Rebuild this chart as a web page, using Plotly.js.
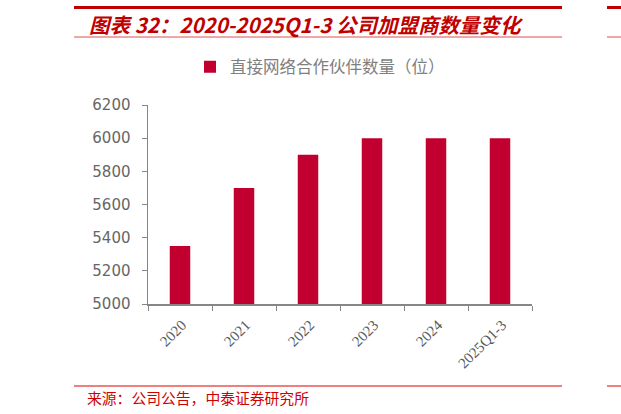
<!DOCTYPE html>
<html>
<head>
<meta charset="utf-8">
<script src="https://cdn.plot.ly/plotly-3.0.1.min.js"></script>
<style>
  body { margin: 0; background: #fff; }
  #myDiv { width: 621px; height: 414px; }
</style>
</head>
<body>
<div id="myDiv"></div>
<script>
var years = ["2020", "2021", "2022", "2023", "2024", "2025Q1-3"];
var partners = [5350, 5700, 5900, 6000, 6000, 6000];
var yTicks = [5000, 5200, 5400, 5600, 5800, 6000, 6200];

var trace1 = {
  x: years,
  y: partners,
  name: '直接网络合作伙伴数量（位）',
  marker: {color: '#C2002F'},
  type: 'bar'
};

var red = '#C00000';

// page rules: header line, line under title, source line (+ bits of the next column on the right)
function rule(x0, x1, y, color, w) {
  return {type: 'line', xref: 'paper', yref: 'paper', xsizemode: 'pixel', ysizemode: 'pixel',
    xanchor: 0, yanchor: 0, x0: x0, x1: x1, y0: y, y1: y, line: {color: color, width: w}};
}

var layout = {
  width: 621,
  height: 414,
  margin: {l: 148, r: 89, t: 105, b: 110},
  paper_bgcolor: '#fff',
  plot_bgcolor: '#fff',
  showlegend: true,
  bargap: 0.68,
  font: {family: 'Noto Sans CJK SC, sans-serif', color: '#595959'},
  legend: {
    orientation: 'h',
    xref: 'container', yref: 'container',
    x: 190 / 621, y: 1 - 67 / 414,
    xanchor: 'left', yanchor: 'middle',
    font: {size: 16.5, color: '#7f7f7f', family: 'Noto Sans CJK SC, sans-serif'},
    itemwidth: 30
  },
  xaxis: {
    type: 'category',
    showline: true,
    linecolor: '#868686',
    linewidth: 1.5,
    ticks: 'outside',
    tickson: 'boundaries',
    ticklen: 5,
    tickcolor: '#868686',
    tickangle: -45,
    ticklabelshift: 2,
    ticklabelstandoff: 5,
    tickfont: {size: 15, family: 'Liberation Serif, serif', color: '#595959'},
    showgrid: false
  },
  yaxis: {
    range: [5000, 6200],
    tickvals: yTicks,
    showline: true,
    linecolor: '#868686',
    linewidth: 1.5,
    ticks: 'outside',
    ticklen: 5,
    tickcolor: '#868686',
    ticklabelstandoff: 8,
    tickfont: {size: 15, family: 'DejaVu Sans, sans-serif', color: '#666666'},
    showgrid: false,
    zeroline: false
  },
  shapes: [
    rule(-74, 414, 296.5, red, 3),
    rule(-74, 414, 267, '#dd5050', 1),
    rule(459, 480, 296.5, red, 3),
    rule(459, 480, 267, '#dd5050', 1),
    rule(-74, 414, -82, '#e00000', 1),
    rule(459, 480, -82, '#e00000', 1)
  ],
  annotations: [
    {xref: 'paper', yref: 'paper', x: 0, y: 1, xshift: -61, yshift: 81,
     xanchor: 'left', yanchor: 'middle', showarrow: false,
     text: '<b><i>图表 32：2020-2025Q1-3 公司加盟商数量变化</i></b>',
     font: {size: 20.5, color: red, family: 'Noto Sans CJK SC, sans-serif'}},
    {xref: 'paper', yref: 'paper', x: 0, y: 0, xshift: -63, yshift: -93,
     xanchor: 'left', yanchor: 'middle', showarrow: false,
     text: '来源：公司公告，中泰证券研究所',
     font: {size: 14.8, color: '#d00000', family: 'Noto Sans CJK SC, sans-serif'}}
  ]
};

Plotly.newPlot('myDiv', [trace1], layout, {displayModeBar: false, staticPlot: true});
</script>
</body>
</html>
